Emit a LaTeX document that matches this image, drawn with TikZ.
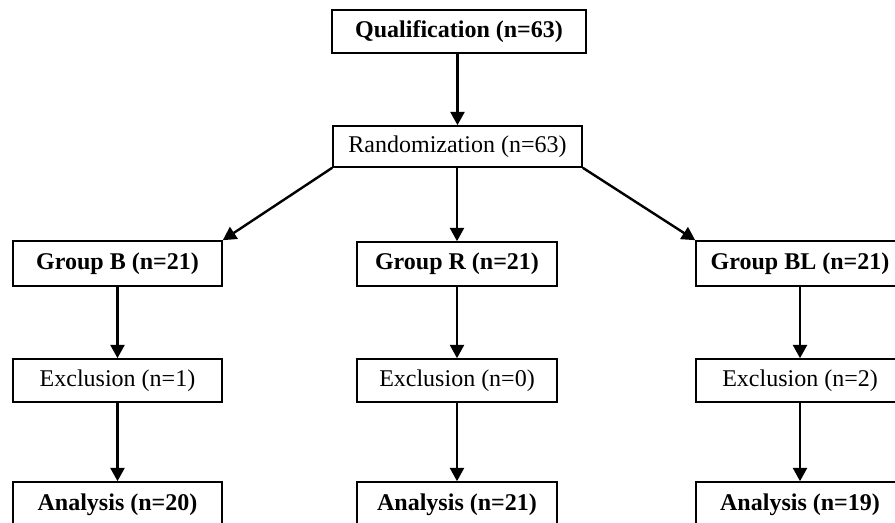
\documentclass[tikz,border=0pt]{standalone}
\usepackage{fontspec}
\setmainfont{Liberation Serif}
\usetikzlibrary{arrows.meta}
\tikzset{
  box/.style={draw=black, line width=1.2pt, inner sep=0pt, align=center,
    font=\fontsize{18}{20}\selectfont},
  boldbox/.style={box, font=\fontsize{18}{20}\selectfont\bfseries},
  arr/.style={line width=1.8pt, -{Triangle[length=10pt,width=10.5pt]}},
}
\begin{document}
\begin{tikzpicture}[x=0.75pt,y=-0.75pt]
\useasboundingbox (0,0) rectangle (895,523);
\node[boldbox, minimum width=190.5pt, minimum height=32.25pt] (Q) at (459,31.5) {Qualification (n=63)};
\node[box, minimum width=186.75pt, minimum height=30.75pt] (R) at (457.5,146.5) {Randomization (n=63)};
\node[boldbox, minimum width=156.75pt, minimum height=33.75pt] (GB) at (117.5,263.5) {Group B (n=21)};
\node[boldbox, minimum width=150pt, minimum height=33pt] (GR) at (457,264) {Group R (n=21)};
\node[boldbox, minimum width=156pt, minimum height=33.75pt] (GBL) at (800,263.5) {Group BL (n=21)};
\node[box, minimum width=156.75pt, minimum height=32.25pt] (EB) at (117.5,380.5) {Exclusion (n=1)};
\node[box, minimum width=150pt, minimum height=32.25pt] (ER) at (457,380.5) {Exclusion (n=0)};
\node[box, minimum width=156pt, minimum height=32.25pt] (EBL) at (800,380.5) {Exclusion (n=2)};
\node[boldbox, minimum width=156.75pt, minimum height=33.75pt] (AB) at (117.5,504.5) {Analysis (n=20)};
\node[boldbox, minimum width=150pt, minimum height=33.75pt] (AR) at (457,504.5) {Analysis (n=21)};
\node[boldbox, minimum width=156pt, minimum height=33.75pt] (ABL) at (800,504.5) {Analysis (n=19)};
\draw[arr] (R.north |- Q.south) -- (R.north);
\draw[arr] (R.south west) -- (GB.north east);
\draw[arr] (R.south -| GR.north) -- (GR.north);
\draw[arr] (R.south east) -- (GBL.north west);
\draw[arr] (GB.south) -- (EB.north);
\draw[arr] (GR.south) -- (ER.north);
\draw[arr] (GBL.south) -- (EBL.north);
\draw[arr] (EB.south) -- (AB.north);
\draw[arr] (ER.south) -- (AR.north);
\draw[arr] (EBL.south) -- (ABL.north);
\end{tikzpicture}
\end{document}
